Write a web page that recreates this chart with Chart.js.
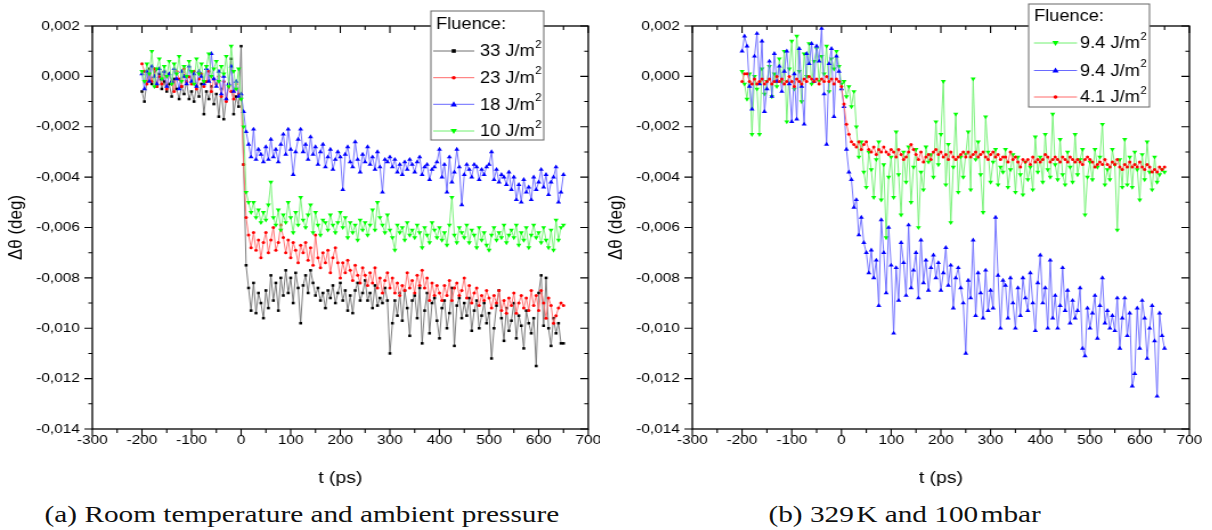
<!DOCTYPE html>
<html>
<head>
<meta charset="utf-8">
<script src="https://cdn.jsdelivr.net/npm/chart.js@4.4.1/dist/chart.umd.min.js"></script>
<style>
  body { margin: 0; background: #fff; width: 1212px; height: 530px; overflow: hidden; position: relative; }
  .wrap { position: absolute; top: 0; transform-origin: 0 0; transform: scaleX(1.14); }
  .cap { position: absolute; top: 502px; font-family: "Liberation Serif", serif; font-size: 24px; line-height: 24px;
         color: #111; white-space: nowrap; text-align: center; }
  .cap span { display: inline-block; transform: scaleX(1.22); }
</style>
</head>
<body>
<div class="wrap" style="left:0"><canvas id="chartA" width="526" height="495"></canvas></div>
<div class="wrap" style="left:600px"><canvas id="chartB" width="537" height="495"></canvas></div>
<div class="cap" style="left:2px;width:600px"><span>(a) Room temperature and ambient pressure</span></div>
<div class="cap" style="left:605px;width:600px"><span>(b) 329&#8202;K and 100&#8202;mbar</span></div>
<script>
// time axis, ps (same grid for both panels)
const times = [
  -200,-195,-190,-185,-180,-175,-170,-165,-160,-155,
  -150,-145,-140,-135,-130,-125,-120,-115,-110,-105,
  -100,-95,-90,-85,-80,-75,-70,-65,-60,-55,
  -50,-45,-40,-35,-30,-25,-20,-15,-10,-5,
  0,5,10,15,20,25,30,35,40,45,
  50,55,60,65,70,75,80,85,90,95,
  100,105,110,115,120,125,130,135,140,145,
  150,155,160,165,170,175,180,185,190,195,
  200,205,210,215,220,225,230,235,240,245,
  250,255,260,265,270,275,280,285,290,295,
  300,305,310,315,320,325,330,335,340,345,
  350,355,360,365,370,375,380,385,390,395,
  400,405,410,415,420,425,430,435,440,445,
  450,455,460,465,470,475,480,485,490,495,
  500,505,510,515,520,525,530,535,540,545,
  550,555,560,565,570,575,580,585,590,595,
  600,605,610,615,620,625,630,635,640,645,
  650
];

// values in 10^-3 deg
// (a) room temperature, ambient pressure
const a33 = [
  -0.6,-1.0,-0.2,0.3,-0.3,0.2,-0.4,0.1,-0.5,-0.2,
  -0.6,-0.3,-0.8,-0.1,-0.5,-0.9,-0.4,-0.7,-0.2,-0.9,
  -0.6,-1.0,-0.4,-0.8,-0.3,-1.5,-0.6,-0.9,-0.4,-1.1,
  -0.7,-1.6,-0.5,-1.7,-0.9,-0.3,0.7,-1.5,-0.8,-1.2,
  1.2,-3.5,-7.5,-8.4,-9.3,-8.2,-9.4,-8.6,-9.0,-9.6,
  -8.5,-9.2,-7.9,-8.9,-8.2,-9.3,-8.0,-8.7,-7.7,-8.6,
  -8.0,-9.0,-7.8,-8.4,-9.8,-8.3,-7.9,-8.6,-7.7,-8.2,
  -8.7,-8.4,-8.9,-8.6,-9.2,-8.5,-8.8,-8.3,-9.0,-8.6,
  -8.2,-8.9,-8.5,-9.3,-8.7,-9.4,-8.5,-8.2,-8.9,-8.6,
  -8.1,-8.9,-8.6,-9.2,-8.3,-9.1,-8.8,-9.0,-8.4,-8.9,
  -11.0,-9.8,-8.9,-9.5,-8.6,-9.7,-8.5,-9.2,-10.3,-8.9,
  -8.7,-9.6,-8.4,-10.6,-9.3,-8.6,-10.2,-9.0,-8.8,-9.7,
  -10.4,-9.2,-8.9,-10.0,-9.4,-8.4,-10.7,-9.1,-8.8,-9.6,
  -9.0,-9.5,-8.8,-10.1,-9.3,-8.9,-10.0,-9.5,-9.0,-9.8,
  -9.4,-11.2,-10.0,-9.1,-8.5,-9.6,-10.5,-9.2,-10.1,-9.7,
  -9.0,-10.4,-9.5,-9.9,-10.8,-9.3,-9.8,-10.2,-9.6,-11.5,
  -8.6,-7.9,-9.9,-8.0,-10.0,-10.7,-9.6,-10.2,-9.8,-10.6,
  -10.6
];
const a23 = [
  0.5,0.2,-0.3,0.1,-0.2,0.3,-0.4,0.0,-0.3,0.2,
  -0.5,0.1,-0.2,-0.6,0.2,-0.1,-0.4,0.3,-0.2,0.0,
  -0.3,0.2,-0.5,-0.1,0.1,-0.4,-0.2,0.2,-0.6,-0.1,
  -0.3,0.0,-0.8,-0.2,-1.0,-0.4,-0.6,-0.9,-0.3,-0.7,
  -0.9,-3.5,-5.6,-6.3,-6.8,-6.2,-6.9,-6.5,-7.2,-6.6,
  -6.2,-7.0,-6.5,-6.0,-6.9,-6.6,-5.9,-6.4,-7.0,-6.5,
  -7.2,-6.6,-6.9,-7.4,-6.7,-7.0,-6.6,-7.3,-6.8,-7.5,
  -6.3,-7.2,-7.6,-7.0,-7.4,-6.9,-7.8,-7.2,-6.8,-7.4,
  -8.0,-7.4,-7.8,-7.3,-7.7,-8.1,-7.5,-7.9,-8.2,-7.6,
  -7.9,-8.3,-7.8,-8.2,-7.6,-8.4,-8.0,-8.6,-8.1,-7.8,
  -8.4,-8.0,-8.6,-8.2,-8.7,-8.3,-8.5,-7.8,-8.4,-8.1,
  -8.6,-7.9,-8.3,-7.7,-8.4,-8.0,-8.9,-8.2,-8.7,-8.3,
  -8.6,-8.9,-8.3,-8.7,-8.1,-8.9,-8.4,-8.2,-8.7,-8.5,
  -8.0,-8.8,-8.3,-9.0,-8.6,-8.4,-9.1,-8.7,-8.9,-8.5,
  -8.8,-9.2,-8.7,-9.0,-8.5,-9.3,-8.9,-9.4,-8.8,-9.1,
  -8.6,-9.4,-9.0,-8.7,-9.2,-8.8,-9.3,-8.5,-9.1,-8.7,
  -9.3,-8.5,-9.0,-9.6,-8.8,-9.1,-9.8,-9.5,-9.2,-9.0,
  -9.1
];
const a18 = [
  0.1,-0.5,0.2,-0.2,0.4,0.0,-0.3,0.3,-0.1,0.2,
  -0.4,0.1,-0.2,0.3,-0.1,-0.5,0.2,0.0,-0.3,0.4,
  -0.2,0.1,-0.4,0.2,0.0,-0.3,0.3,-0.2,0.9,-0.1,
  -0.4,0.2,-0.7,0.0,-0.9,-0.3,0.4,-0.6,-0.2,-0.8,
  -0.7,-1.4,-2.2,-2.7,-3.2,-2.1,-3.3,-2.9,-3.1,-3.4,
  -2.8,-3.3,-2.5,-3.2,-2.9,-3.4,-2.7,-2.3,-3.1,-2.1,
  -2.9,-3.9,-3.0,-2.5,-2.1,-3.0,-2.7,-3.3,-2.4,-3.1,
  -2.8,-3.5,-3.0,-2.7,-3.6,-3.2,-2.9,-3.7,-3.3,-3.0,
  -3.2,-4.5,-3.1,-2.8,-3.4,-3.6,-2.6,-3.3,-3.8,-3.1,
  -3.4,-2.8,-3.5,-3.2,-3.7,-3.0,-3.6,-4.6,-3.3,-3.4,
  -3.2,-3.6,-3.3,-3.8,-3.5,-3.9,-3.4,-3.7,-3.3,-3.5,
  -3.8,-3.4,-3.2,-3.9,-3.6,-3.5,-4.1,-3.7,-3.6,-3.4,
  -2.9,-4.0,-3.5,-4.6,-3.2,-4.2,-3.8,-2.9,-3.6,-5.1,
  -3.9,-3.5,-3.7,-4.0,-3.5,-3.6,-4.1,-3.7,-3.9,-3.6,
  -3.5,-3.0,-4.1,-3.7,-4.2,-3.9,-4.0,-4.3,-3.8,-4.5,
  -4.0,-4.9,-4.3,-5.0,-4.1,-4.6,-4.4,-4.9,-4.0,-4.5,
  -4.2,-3.7,-4.4,-3.9,-4.7,-4.2,-4.0,-3.6,-5.0,-4.6,
  -3.9
];
const a10 = [
  0.2,-0.2,0.5,0.1,1.0,-0.4,0.3,0.7,-0.1,0.4,
  0.0,0.6,-0.3,0.5,0.1,0.8,-0.2,0.4,0.0,0.6,
  0.2,-0.3,0.7,0.1,0.5,-0.2,0.4,0.9,0.0,0.3,
  0.6,-0.2,0.4,0.1,0.8,-0.4,1.2,0.2,-0.5,0.3,
  -0.9,-2.0,-4.6,-5.0,-5.4,-5.0,-5.6,-5.3,-5.8,-5.4,
  -5.7,-5.1,-4.2,-5.6,-5.9,-5.3,-6.1,-5.5,-5.8,-5.0,
  -5.6,-6.2,-5.4,-5.9,-4.8,-5.7,-6.0,-5.5,-5.1,-6.2,
  -5.4,-5.9,-6.3,-5.7,-5.8,-6.1,-5.5,-5.9,-6.2,-5.8,
  -5.4,-6.0,-5.6,-6.4,-5.8,-6.2,-5.9,-6.5,-5.7,-6.1,
  -5.8,-6.3,-5.9,-5.3,-6.1,-5.0,-5.6,-5.9,-6.2,-5.5,
  -6.1,-6.4,-6.9,-5.9,-6.2,-6.0,-6.5,-5.8,-6.3,-6.1,
  -6.4,-5.9,-6.2,-6.8,-6.0,-6.3,-6.6,-5.8,-6.1,-6.4,
  -6.0,-6.5,-6.2,-6.7,-5.9,-4.8,-6.3,-6.6,-6.0,-6.2,
  -6.4,-5.9,-6.6,-6.1,-6.3,-6.8,-6.0,-6.5,-6.2,-6.7,
  -6.9,-6.3,-6.0,-6.5,-6.2,-6.4,-5.9,-6.6,-6.3,-6.1,
  -6.4,-5.9,-6.7,-6.2,-6.5,-6.0,-6.8,-6.3,-5.9,-6.4,
  -6.2,-6.6,-6.0,-6.5,-6.8,-6.1,-6.9,-5.7,-6.5,-6.0,
  -5.9
];

// (b) 329 K, 100 mbar
const b94g = [
  0.2,-0.3,-0.9,0.1,-2.3,0.0,-0.5,-2.3,0.3,-0.7,
  -0.2,0.4,-0.8,0.1,-0.4,0.7,-0.2,1.0,-1.8,0.3,
  1.4,-0.5,1.6,0.2,-1.0,0.9,0.0,1.3,-0.3,0.6,
  1.1,-0.2,0.8,0.1,1.2,-0.6,0.7,0.3,1.0,0.4,
  -0.3,-0.2,-0.8,-0.4,-1.2,-0.6,-2.0,-3.2,-2.6,-3.8,
  -4.4,-3.0,-3.7,-4.8,-3.3,-2.6,-4.9,-3.5,-6.4,-4.0,
  -3.2,-4.8,-2.2,-3.9,-5.5,-3.0,-4.2,-2.8,-5.0,-3.6,
  -2.9,-6.0,-3.8,-4.5,-2.8,-3.4,-3.1,-4.0,-1.8,-3.5,
  -2.3,-0.2,-4.3,-2.7,-5.8,-3.6,-1.5,-4.6,-3.2,-4.0,
  -3.1,-2.2,-4.5,-0.1,-3.3,-2.6,-3.9,-5.4,-1.6,-3.0,
  -4.2,-3.4,-2.9,-4.3,-3.6,-3.8,-2.9,-4.4,-3.7,-3.1,
  -4.6,-3.2,-3.9,-4.7,-3.4,-4.1,-3.6,-4.5,-2.4,-3.8,
  -3.2,-4.2,-2.3,-3.7,-4.0,-1.5,-3.5,-4.1,-2.5,-3.9,
  -4.3,-3.0,-3.6,-4.2,-2.3,-3.9,-3.3,-2.9,-5.5,-4.0,
  -3.4,-4.1,-2.9,-3.6,-3.2,-1.9,-4.3,-3.7,-4.1,-2.9,
  -3.5,-6.1,-3.3,-4.4,-2.5,-4.3,-3.2,-4.4,-3.0,-3.7,
  -4.9,-3.1,-4.1,-2.6,-3.8,-4.5,-3.2,-4.2,-3.9,-3.7,
  -3.8
];
const b94b = [
  1.0,1.6,1.2,-0.4,-1.3,0.8,1.7,-0.3,1.4,-1.4,
  -0.5,0.6,-0.8,0.9,-0.2,0.4,-0.6,0.2,1.0,-0.3,
  -1.8,0.1,-1.7,1.1,-0.4,-1.9,0.9,0.5,1.3,-0.2,
  1.2,0.6,1.9,-0.7,-2.7,0.5,1.1,-1.6,0.8,0.2,
  -0.5,-1.2,-2.9,-3.8,-4.1,-5.2,-4.9,-6.3,-5.6,-6.6,
  -7.0,-7.8,-6.9,-8.0,-7.3,-9.1,-5.7,-7.0,-8.6,-6.0,
  -7.5,-10.2,-7.6,-8.9,-6.6,-7.4,-8.7,-5.9,-8.4,-7.7,
  -7.0,-8.8,-6.5,-8.2,-7.3,-8.5,-7.6,-7.1,-8.0,-7.4,
  -8.5,-7.8,-6.8,-8.3,-7.5,-9.2,-8.0,-7.6,-8.4,-9.0,
  -11.0,-8.1,-8.8,-6.5,-9.5,-7.8,-8.6,-9.6,-7.7,-9.3,
  -8.5,-9.2,-5.6,-7.9,-10.0,-8.1,-8.3,-9.6,-8.0,-9.0,
  -10.0,-8.4,-9.5,-8.0,-8.8,-9.3,-7.8,-9.0,-10.1,-8.2,
  -7.1,-9.0,-8.4,-10.0,-7.3,-9.6,-8.7,-10.0,-9.1,-7.6,
  -9.3,-8.5,-9.8,-8.9,-9.6,-9.3,-8.4,-10.8,-11.1,-9.2,
  -10.0,-9.4,-8.7,-10.4,-9.1,-8.0,-9.8,-9.3,-10.0,-9.5,
  -10.1,-8.8,-10.8,-9.6,-8.8,-10.3,-9.4,-12.3,-11.8,-9.2,
  -10.8,-8.9,-9.6,-11.2,-10.0,-9.1,-10.5,-12.7,-9.4,-10.3,
  -10.8
];
const b41 = [
  -0.2,0.1,0.1,-0.2,-0.3,-0.1,-0.3,-0.2,-0.1,-0.3,
  -0.2,-0.1,-0.3,-0.2,0.0,-0.2,-0.1,-0.3,-0.2,0.0,
  -0.2,-0.4,-0.1,-0.2,-0.3,-0.1,-0.2,0.0,-0.1,-0.2,
  -0.1,-0.3,-0.1,-0.2,0.0,-0.2,-0.1,-0.3,-0.1,-0.2,
  -0.4,-1.1,-1.9,-2.3,-2.6,-2.7,-2.8,-2.6,-2.9,-2.7,
  -2.6,-2.9,-3.0,-2.8,-3.1,-2.9,-3.0,-2.8,-3.0,-3.1,
  -2.9,-3.0,-3.2,-2.9,-3.1,-3.3,-3.2,-3.0,-2.7,-2.9,
  -3.1,-3.3,-3.0,-3.4,-3.2,-3.1,-3.3,-3.0,-2.9,-3.1,
  -3.0,-3.2,-3.1,-3.3,-3.0,-3.2,-3.3,-3.2,-3.1,-3.0,
  -3.2,-3.0,-3.2,-3.1,-3.0,-3.2,-3.1,-3.0,-3.2,-3.3,
  -3.1,-3.0,-3.2,-3.1,-3.3,-3.2,-3.2,-3.4,-3.0,-3.3,
  -3.2,-3.4,-3.6,-3.3,-3.4,-3.3,-3.5,-3.2,-3.4,-3.3,
  -3.4,-3.3,-3.1,-3.2,-3.4,-3.3,-3.2,-3.3,-3.4,-3.2,
  -3.3,-3.4,-3.2,-3.3,-3.4,-3.3,-3.4,-3.5,-3.3,-3.2,
  -3.3,-3.4,-3.6,-3.5,-3.4,-3.5,-3.3,-3.5,-3.6,-3.4,
  -3.5,-3.3,-3.6,-3.7,-3.5,-3.6,-3.4,-3.6,-3.5,-3.6,
  -3.4,-3.6,-3.7,-3.5,-3.6,-3.8,-3.7,-3.8,-3.6,-3.7,
  -3.6
];

const xTicks = [-300, -200, -100, 0, 100, 200, 300, 400, 500, 600, 700];
const yTicks = [2, 0, -2, -4, -6, -8, -10, -12, -14];

const FONT = '"Liberation Sans", Arial, sans-serif';

// series look: [point color, line color, point style, rotation, radius]
const looks = {
  black: ['#000000', '#707070', 'rect', 0, 1.8],
  red: ['#ff0000', '#ff6a6a', 'circle', 0, 1.5],
  blue: ['#0000ff', '#6a6aff', 'triangle', 0, 2.6],
  green: ['#00ff00', '#70f070', 'triangle', 180, 2.6]
};

function series(label, vals, look) {
  const [pc, lc, ps, rot, r] = looks[look];
  return {
    label: label,
    data: times.map((t, i) => ({ x: t, y: vals[i] })),
    borderColor: lc,
    borderWidth: 0.9,
    backgroundColor: pc,
    pointBackgroundColor: pc,
    pointBorderColor: pc,
    pointBorderWidth: 0,
    pointStyle: ps,
    rotation: rot,
    pointRadius: r,
    tension: 0
  };
}

function drawMarker(ctx, look, x, y) {
  const [pc, , ps, rot, r] = looks[look];
  ctx.fillStyle = pc;
  ctx.beginPath();
  if (ps === 'rect') {
    ctx.rect(x - r, y - r, 2 * r, 2 * r);
  } else if (ps === 'circle') {
    ctx.arc(x, y, r + 0.3, 0, Math.PI * 2);
  } else {
    const s = rot ? -1 : 1;
    ctx.moveTo(x, y - s * r * 1.2);
    ctx.lineTo(x - r * 1.1, y + s * r * 0.8);
    ctx.lineTo(x + r * 1.1, y + s * r * 0.8);
    ctx.closePath();
  }
  ctx.fill();
}

// frame with Origin-style ticks: out on bottom/left, in on top/right
const framePlugin = {
  id: 'frame',
  afterDatasetsDraw(chart) {
    const { ctx, chartArea: a, scales } = chart;
    const xs = scales.x, ys = scales.y;
    ctx.save();
    ctx.strokeStyle = '#000';
    ctx.lineWidth = 1.3;
    ctx.strokeRect(a.left, a.top, a.right - a.left, a.bottom - a.top);
    ctx.lineWidth = 1.1;
    ctx.beginPath();
    for (let t = -300; t <= 700; t += 50) {
      const x = xs.getPixelForValue(t);
      const len = t % 100 === 0 ? 7 : 4;
      ctx.moveTo(x, a.bottom); ctx.lineTo(x, a.bottom + len);
      ctx.moveTo(x, a.top); ctx.lineTo(x, a.top + len);
    }
    for (let v = -14; v <= 2; v += 1) {
      const y = ys.getPixelForValue(v);
      const len = v % 2 === 0 ? 7 : 3.5;
      ctx.moveTo(a.left, y); ctx.lineTo(a.left - len, y);
      ctx.moveTo(a.right, y); ctx.lineTo(a.right - len, y);
    }
    ctx.stroke();
    ctx.restore();
  },
  afterDraw(chart) {
    const lg = chart.options.plugins.frame;
    if (!lg || !lg.box) return;
    const ctx = chart.ctx;
    const b = lg.box;
    ctx.save();
    ctx.fillStyle = '#fff';
    ctx.fillRect(b.x, b.y, b.w, b.h);
    ctx.strokeStyle = '#666';
    ctx.lineWidth = 1;
    ctx.strokeRect(b.x, b.y, b.w, b.h);
    ctx.fillStyle = '#000';
    ctx.textBaseline = 'middle';
    ctx.font = '16px ' + FONT;
    ctx.fillText('Fluence:', lg.titleX, lg.titleY);
    lg.items.forEach((it, i) => {
      const y = lg.rows[i];
      const [, lc] = looks[it.look];
      ctx.strokeStyle = lc;
      ctx.lineWidth = 1;
      ctx.beginPath();
      ctx.moveTo(lg.line[0], y); ctx.lineTo(lg.line[1], y);
      ctx.stroke();
      drawMarker(ctx, it.look, (lg.line[0] + lg.line[1]) / 2, y);
      ctx.fillStyle = '#000';
      ctx.font = '16px ' + FONT;
      ctx.fillText(it.text, lg.textX, y + 1);
      const w = ctx.measureText(it.text).width;
      ctx.font = '10px ' + FONT;
      ctx.fillText('2', lg.textX + w + 0.5, y - 6);
    });
    ctx.restore();
  }
};

function makeChart(id, datasets, padRight, legend) {
  return new Chart(document.getElementById(id), {
    type: 'line',
    data: { datasets: datasets },
    options: {
      responsive: false,
      animation: false,
      events: [],
      layout: { padding: { top: 26, right: padRight, left: 0, bottom: 0 } },
      plugins: {
        legend: { display: false },
        tooltip: { enabled: false },
        frame: legend
      },
      scales: {
        x: {
          type: 'linear',
          min: -300, max: 700,
          afterBuildTicks: s => { s.ticks = xTicks.map(v => ({ value: v })); },
          afterFit: s => { s.height = 66; s.paddingLeft = 0; s.paddingRight = 0; },
          grid: { display: false, drawTicks: false },
          border: { display: false },
          ticks: { color: '#000', padding: 3, maxRotation: 0, font: { family: FONT, size: 13.5 } },
          title: { display: true, text: 't (ps)', color: '#000', font: { family: FONT, size: 17 },
                   padding: { top: 0, bottom: 6 } }
        },
        y: {
          min: -14, max: 2,
          afterBuildTicks: s => { s.ticks = yTicks.map(v => ({ value: v })); },
          afterFit: s => { s.width = 81; s.paddingTop = 0; s.paddingBottom = 0; },
          grid: { display: false, drawTicks: false },
          border: { display: false },
          ticks: {
            color: '#000', padding: 11, font: { family: FONT, size: 13.5 },
            callback: v => (v / 1000).toFixed(3).replace('.', ',')
          },
          title: { display: true, text: '\u0394\u03b8 (deg)', color: '#000', font: { family: FONT, size: 17 },
                   padding: { top: 4, bottom: 0 } }
        }
      }
    },
    plugins: [framePlugin]
  });
}

makeChart('chartA', [
  series('10 J/m²', a10, 'green'),
  series('18 J/m²', a18, 'blue'),
  series('23 J/m²', a23, 'red'),
  series('33 J/m²', a33, 'black')
], 10, {
  box: { x: 378, y: 11, w: 99, h: 129 },
  titleX: 382.5, titleY: 25,
  line: [380, 416], textX: 421,
  rows: [51, 77.7, 104.3, 131],
  items: [
    { text: '33 J/m', look: 'black' },
    { text: '23 J/m', look: 'red' },
    { text: '18 J/m', look: 'blue' },
    { text: '10 J/m', look: 'green' }
  ]
});

makeChart('chartB', [
  series('4.1 J/m²', b41, 'red'),
  series('9.4 J/m²', b94b, 'blue'),
  series('9.4 J/m²', b94g, 'green')
], 20, {
  box: { x: 376, y: 4, w: 106, h: 103 },
  titleX: 380.7, titleY: 17,
  line: [380.7, 418.4], textX: 421,
  rows: [43, 70.5, 97],
  items: [
    { text: '9.4 J/m', look: 'green' },
    { text: '9.4 J/m', look: 'blue' },
    { text: '4.1 J/m', look: 'red' }
  ]
});
</script>
</body>
</html>
